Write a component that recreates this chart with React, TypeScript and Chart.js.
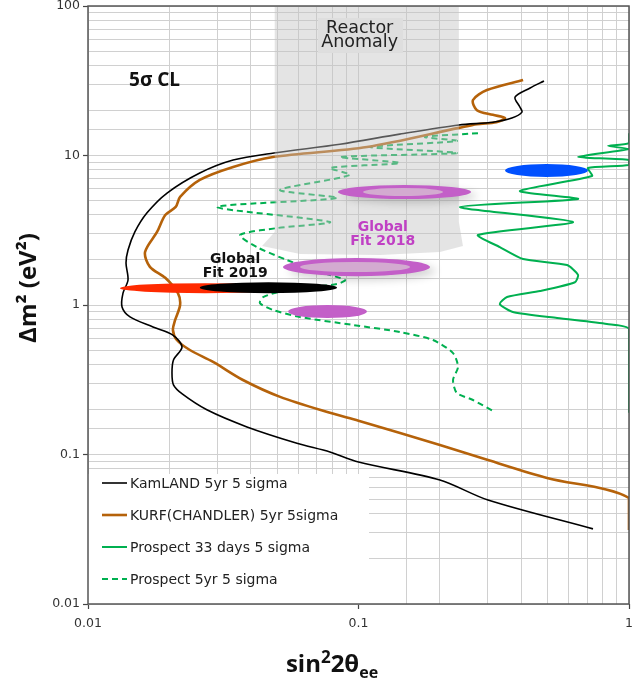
import React, { useEffect, useRef } from "react";
import { Chart, registerables } from "chart.js";

Chart.register(...registerables);

// ---------------- data ----------------
const xTickLabels = ["0.01", "0.1", "1"];
const yTickLabels = ["0.01", "0.1", "1", "10", "100"];

const seriesNames = [
  "KamLAND 5yr 5 sigma",
  "KURF(CHANDLER) 5yr 5sigma",
  "Prospect 33 days 5 sigma",
  "Prospect 5yr 5 sigma",
];

const kamland: number[][] = [
  [0.485, 31.5], [0.431, 28.3], [0.379, 24.6], [0.395, 21.1], [0.402, 19.5], [0.369, 17.8],
  [0.314, 16.7], [0.235, 16.0], [0.142, 13.9], [0.0854, 11.9], [0.0487, 10.4], [0.0344, 9.33],
  [0.0259, 7.64], [0.0196, 5.61], [0.0165, 4.12], [0.0149, 3.08], [0.01406, 2.33], [0.01382, 1.91],
  [0.01406, 1.47], [0.01347, 1.2], [0.01336, 0.97], [0.0143, 0.832], [0.01739, 0.713], [0.0206, 0.629],
  [0.02226, 0.524], [0.0207, 0.429], [0.02044, 0.351], [0.0207, 0.292], [0.0223, 0.254], [0.0275, 0.199],
  [0.0387, 0.153], [0.0592, 0.119], [0.0784, 0.104], [0.1, 0.0891], [0.2, 0.0675], [0.301, 0.0496],
  [0.736, 0.0318],
];

const kurf: number[][] = [
  [0.406, 32.0], [0.2985, 27.4], [0.265, 23.5], [0.274, 20.1], [0.314, 18.7], [0.348, 17.8],
  [0.323, 16.7], [0.274, 16.2], [0.235, 15.3], [0.1075, 11.4], [0.0483, 9.77], [0.0344, 8.38],
  [0.0259, 6.86], [0.0219, 5.28], [0.0211, 4.53], [0.0193, 4.0], [0.018, 3.08], [0.01625, 2.26],
  [0.01694, 1.8], [0.0193, 1.52], [0.0215, 1.2], [0.0219, 1.0], [0.021, 0.794], [0.0206, 0.681],
  [0.0213, 0.583], [0.0238, 0.5], [0.029, 0.416], [0.0374, 0.315], [0.0513, 0.243], [0.0784, 0.19],
  [0.1, 0.168], [0.2, 0.1157], [0.301, 0.0918], [0.498, 0.0697], [1.0, 0.0512], [1.0, 0.0313],
];

const prospect33: number[][] = [
  [1.0, 14.1], [1.0, 12.1], [0.836, 11.6], [1.0, 11.05], [0.648, 9.77], [1.0, 9.33], [1.0, 8.64],
  [0.705, 8.25], [0.73, 7.29], [0.395, 5.79], [0.648, 5.12], [0.237, 4.52], [0.621, 3.59],
  [0.2765, 2.94], [0.333, 2.44], [0.406, 2.03], [0.59, 1.85], [0.648, 1.59], [0.631, 1.42],
  [0.469, 1.24], [0.354, 1.13], [0.333, 1.015], [0.372, 0.898], [0.542, 0.818], [0.829, 0.746],
  [1.0, 0.691], [1.0, 0.19],
];

const prospect5yr: number[][] = [
  [0.2765, 14.1], [0.176, 13.3], [0.231, 12.5], [0.1103, 11.4], [0.231, 10.4], [0.0854, 9.77],
  [0.142, 8.91], [0.0784, 8.25], [0.093, 7.41], [0.0513, 5.88], [0.0833, 5.2], [0.03, 4.52],
  [0.0784, 3.59], [0.05, 3.27], [0.0365, 2.94], [0.0421, 2.44], [0.0544, 2.0], [0.0721, 1.66],
  [0.0891, 1.47], [0.0833, 1.38], [0.0544, 1.26], [0.0444, 1.13], [0.0432, 1.03], [0.0483, 0.926],
  [0.0608, 0.831], [0.0954, 0.735], [0.142, 0.66], [0.1885, 0.583], [0.2236, 0.477], [0.2333, 0.385],
  [0.2236, 0.315], [0.231, 0.258], [0.265, 0.2315], [0.3196, 0.192],
];

// ellipse bounds: [xMin, xMax, yMin, yMax]
const fit2018Outer: number[][] = [[0.084, 0.2605, 5.12, 6.35], [0.0526, 0.1838, 1.56, 2.06]];
const fit2018Inner: number[][] = [[0.1039, 0.2054, 5.36, 6.06], [0.0608, 0.155, 1.66, 1.94]];
const fit2018Solid: number[][] = [[0.0549, 0.1075, 0.818, 1.0]];
const redFit: number[] = [0.01313, 0.0558, 1.2, 1.4];
const fit2019: number[] = [0.0259, 0.0833, 1.2, 1.42];
const blueFit: number[] = [0.348, 0.705, 7.18, 8.77];

// reactor anomaly shaded region outline
const reactorAnomaly: number[][] = [
  [0.049, 100], [0.235, 100], [0.235, 3.59], [0.2433, 2.48], [0.2, 2.26], [0.12, 2.16],
  [0.0608, 2.19], [0.044, 2.48], [0.049, 3.08],
];

// ---------------- helpers ----------------
const isMajor = (v: number) => Math.abs(Math.log10(v) - Math.round(Math.log10(v))) < 1e-6;
const labelFor = (v: number, list: string[]) => {
  const f = list.find((s) => Math.abs(Math.log10(Number(s)) - Math.log10(v)) < 1e-6);
  return f === undefined ? "" : f;
};
const toPts = (arr: number[][]) => arr.map(([x, y]) => ({ x, y }));

const FONT = '"DejaVu Sans", Verdana, sans-serif';
const TITLE_FONT = '"Open Sans", "DejaVu Sans", sans-serif';

const decorPlugin = {
  id: "decor",
  afterDatasetsDraw(chart: any) {
    const { ctx, chartArea, scales } = chart;
    const X = (v: number) => scales.x.getPixelForValue(v);
    const Y = (v: number) => scales.y.getPixelForValue(v);
    ctx.save();
    ctx.beginPath();
    ctx.rect(chartArea.left, chartArea.top, chartArea.right - chartArea.left, chartArea.bottom - chartArea.top);
    ctx.clip();

    // shaded reactor anomaly region
    ctx.beginPath();
    reactorAnomaly.forEach(([x, y], i) => (i ? ctx.lineTo(X(x), Y(y)) : ctx.moveTo(X(x), Y(y))));
    ctx.closePath();
    ctx.fillStyle = "rgba(195,195,195,0.45)";
    ctx.fill();

    // label box
    const bx1 = X(0.0708), bx2 = X(0.146), by1 = Y(83), by2 = Y(48.5);
    ctx.fillStyle = "#dedede";
    ctx.fillRect(bx1, by1, bx2 - bx1, by2 - by1);
    ctx.fillStyle = "#222";
    ctx.font = `17.5px ${FONT}`;
    ctx.textAlign = "center";
    ctx.textBaseline = "alphabetic";
    ctx.fillText("Reactor", X(0.101), Y(65.9));
    ctx.fillText("Anomaly", X(0.101), Y(53.2));

    const ell = (b: number[], color: string) => {
      const x1 = X(b[0]), x2 = X(b[1]), y1 = Y(b[3]), y2 = Y(b[2]);
      ctx.beginPath();
      ctx.ellipse((x1 + x2) / 2, (y1 + y2) / 2, Math.abs(x2 - x1) / 2, Math.abs(y2 - y1) / 2, 0, 0, Math.PI * 2);
      ctx.fillStyle = color;
      ctx.fill();
    };

    // global fit 2018 ellipses with soft shadow
    ctx.save();
    ctx.shadowColor = "rgba(0,0,0,0.18)";
    ctx.shadowBlur = 8;
    ctx.shadowOffsetX = 6;
    ctx.shadowOffsetY = 4;
    fit2018Outer.forEach((b) => ell(b, "#c35fc8"));
    ctx.restore();
    fit2018Inner.forEach((b) => ell(b, "#d3aad0"));
    fit2018Solid.forEach((b) => ell(b, "#c35fc8"));

    ell(redFit, "#ff2a00");
    ell(fit2019, "#000000");
    ell(blueFit, "#0050ff");

    // text annotations
    ctx.font = `bold 14px ${FONT}`;
    ctx.fillStyle = "#111";
    ctx.fillText("Global", X(0.035), Y(1.91));
    ctx.fillText("Fit 2019", X(0.035), Y(1.54));
    ctx.fillStyle = "#c040c4";
    ctx.fillText("Global", X(0.123), Y(3.13));
    ctx.fillText("Fit 2018", X(0.123), Y(2.52));

    ctx.fillStyle = "#111";
    ctx.textAlign = "left";
    ctx.font = `bold 19px ${TITLE_FONT}`;
    ctx.fillText("5σ CL", X(0.01418), Y(29.2));
    ctx.restore();
  },
  afterDraw(chart: any) {
    const { ctx, chartArea } = chart;
    const { left, right, top, bottom } = chartArea;
    ctx.save();

    // legend
    const lw = 281, lh = 130;
    ctx.fillStyle = "#fff";
    ctx.fillRect(left, bottom - lh, lw, lh);
    chart.data.datasets.forEach((ds: any, i: number) => {
      const yy = bottom - lh + 9 + i * 32;
      ctx.beginPath();
      ctx.setLineDash(ds.borderDash || []);
      ctx.strokeStyle = ds.borderColor;
      ctx.lineWidth = ds.borderWidth;
      ctx.moveTo(left + 14, yy);
      ctx.lineTo(left + 39, yy);
      ctx.stroke();
      ctx.setLineDash([]);
      ctx.fillStyle = "#222";
      ctx.font = `14px ${FONT}`;
      ctx.textAlign = "left";
      ctx.textBaseline = "middle";
      ctx.fillText(ds.label, left + 42, yy + 1);
    });

    // frame
    ctx.strokeStyle = "#555";
    ctx.lineWidth = 1.5;
    ctx.strokeRect(left, top, right - left, bottom - top);

    // axis titles
    ctx.fillStyle = "#111";
    ctx.textBaseline = "alphabetic";
    ctx.save();
    ctx.translate(36, 288);
    ctx.rotate(-Math.PI / 2);
    ctx.textAlign = "center";
    ctx.font = `bold 24px ${TITLE_FONT}`;
    ctx.fillText("Δm² (eV²)", 0, 0);
    ctx.restore();

    const runs = [
      { t: "sin", size: 24, dy: 0 },
      { t: "2", size: 17, dy: -9 },
      { t: "2θ", size: 24, dy: 0 },
      { t: "ee", size: 16, dy: 6 },
    ];
    let total = 0;
    runs.forEach((r) => {
      ctx.font = `bold ${r.size}px ${TITLE_FONT}`;
      total += ctx.measureText(r.t).width;
    });
    let cx = 332 - total / 2;
    ctx.textAlign = "left";
    runs.forEach((r) => {
      ctx.font = `bold ${r.size}px ${TITLE_FONT}`;
      ctx.fillText(r.t, cx, 672 + r.dy);
      cx += ctx.measureText(r.t).width;
    });
    ctx.restore();
  },
};

const gridCommon = {
  color: "#d0d0d0",
  lineWidth: 1,
  tickLength: 5,
  tickWidth: 1.2,
  tickColor: (c: any) => (c.tick && isMajor(c.tick.value) ? "#444" : "rgba(0,0,0,0)"),
};

export default function App() {
  const ref = useRef<HTMLCanvasElement>(null);

  useEffect(() => {
    if (!ref.current) return;
    Chart.defaults.font.family = FONT;
    const chart = new Chart(ref.current, {
      type: "scatter",
      data: {
        datasets: [
          {
            label: seriesNames[0],
            data: toPts(kamland),
            showLine: true,
            borderColor: "#000000",
            borderWidth: 1.6,
            pointRadius: 0,
            tension: 0.3,
          },
          {
            label: seriesNames[1],
            data: toPts(kurf),
            showLine: true,
            borderColor: "#b5620a",
            borderWidth: 2.6,
            pointRadius: 0,
            tension: 0.3,
          },
          {
            label: seriesNames[2],
            data: toPts(prospect33),
            showLine: true,
            borderColor: "#00b050",
            borderWidth: 2,
            pointRadius: 0,
            tension: 0.2,
          },
          {
            label: seriesNames[3],
            data: toPts(prospect5yr),
            showLine: true,
            borderColor: "#00b050",
            borderWidth: 2,
            borderDash: [6, 4],
            pointRadius: 0,
            tension: 0.25,
          },
        ],
      } as any,
      options: {
        animation: false,
        responsive: true,
        maintainAspectRatio: false,
        layout: { padding: { top: 6, right: 5, left: 0, bottom: 0 } },
        plugins: { legend: { display: false }, tooltip: { enabled: false } },
        scales: {
          x: {
            type: "logarithmic",
            min: 0.01,
            max: 1,
            border: { display: false },
            grid: gridCommon as any,
            ticks: {
              autoSkip: false,
              maxRotation: 0,
              padding: 7,
              color: "#333",
              font: { size: 12.5, family: FONT },
              callback: (v: any) => (isMajor(Number(v)) ? labelFor(Number(v), xTickLabels) : ""),
            },
            afterFit: (s: any) => {
              s.height = 77;
              s.paddingLeft = 0;
              s.paddingRight = 0;
            },
          },
          y: {
            type: "logarithmic",
            min: 0.01,
            max: 100,
            border: { display: false },
            grid: gridCommon as any,
            ticks: {
              autoSkip: false,
              padding: 3,
              color: "#333",
              font: { size: 12.5, family: FONT },
              callback: (v: any) => (isMajor(Number(v)) ? labelFor(Number(v), yTickLabels) : ""),
            },
            afterFit: (s: any) => {
              s.width = 88;
              s.paddingTop = 0;
              s.paddingBottom = 0;
            },
          },
        },
      } as any,
      plugins: [decorPlugin],
    });
    return () => chart.destroy();
  }, []);

  return (
    <div style={{ position: "absolute", left: 0, top: 0, width: 634, height: 681 }}>
      <canvas ref={ref} />
    </div>
  );
}
